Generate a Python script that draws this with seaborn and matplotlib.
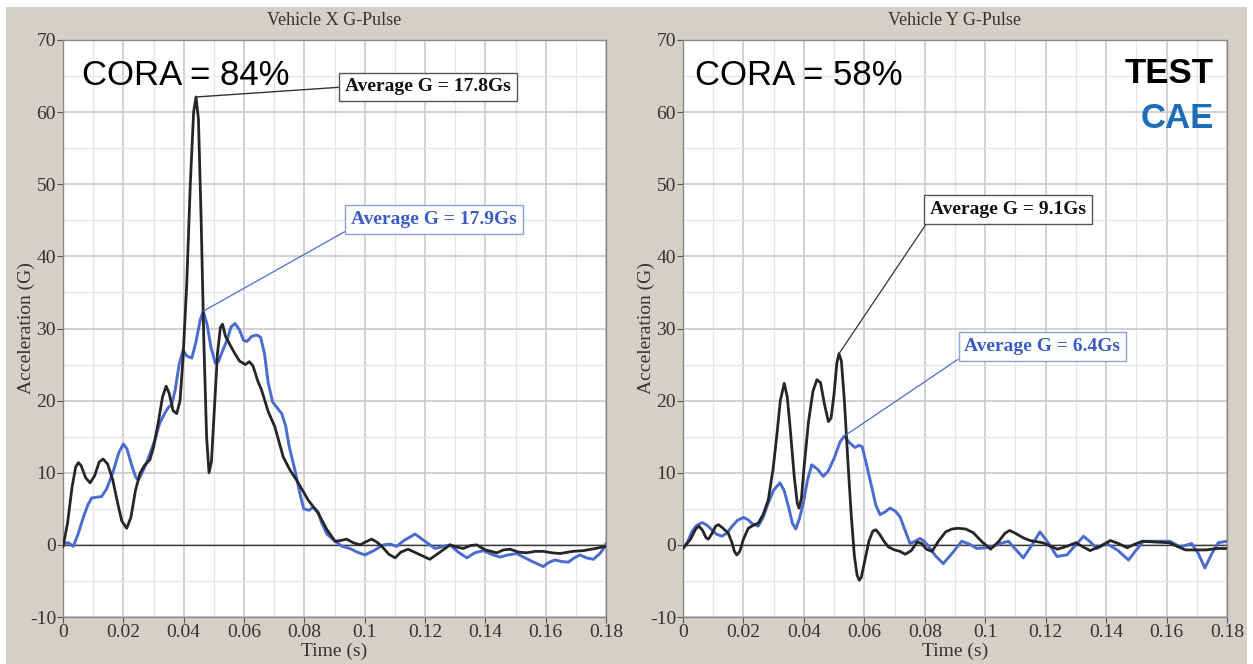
import matplotlib
matplotlib.use("Agg")
import matplotlib.pyplot as plt
import matplotlib.patches as mpatches
from matplotlib.ticker import MultipleLocator, FuncFormatter
import numpy as np
import pandas as pd
import seaborn as sns

# ---- Vehicle X pulse ----
x_test_t = [0, 0.0015, 0.003, 0.0042, 0.0051, 0.006, 0.0075, 0.009, 0.0105, 0.012, 0.0133,
            0.0148, 0.0165, 0.018, 0.0195, 0.0211, 0.0225, 0.024, 0.0255, 0.027, 0.0288,
            0.030, 0.0315, 0.033, 0.0342, 0.0352, 0.0365, 0.0377, 0.0388, 0.0398, 0.041,
            0.0422, 0.0433, 0.0441, 0.0449, 0.0458, 0.0467, 0.0476, 0.0484, 0.0492, 0.0502,
            0.0512, 0.0522, 0.0529, 0.0538, 0.0554, 0.057, 0.0585, 0.0604, 0.0618, 0.063,
            0.0645, 0.0658, 0.068, 0.0702, 0.073, 0.0752, 0.0774, 0.0795, 0.0813, 0.0846,
            0.0875, 0.0902, 0.092, 0.094, 0.0962, 0.0985, 0.1003, 0.1023, 0.104, 0.1057,
            0.108, 0.1101, 0.112, 0.1144, 0.118, 0.1216, 0.125, 0.1283, 0.1305, 0.1327,
            0.135, 0.1371, 0.14, 0.1438, 0.146, 0.1482, 0.151, 0.1537, 0.1565, 0.1592,
            0.162, 0.1648, 0.169, 0.1725, 0.1765, 0.18]
x_test_g = [-0.3, 3, 8, 10.8, 11.4, 11.0, 9.3, 8.6, 9.6, 11.5, 11.9,
            11.2, 9.0, 6.0, 3.3, 2.3, 3.8, 7.5, 9.9, 11.0, 11.8,
            13.5, 16.8, 20.5, 22.0, 21.0, 18.6, 18.2, 20, 26, 36,
            50, 60, 62.1, 59, 45, 28, 15, 10.0, 11.5, 19,
            26.5, 30.2, 30.6, 29, 27.7, 26.5, 25.5, 25.0, 25.4, 24.8,
            22.8, 21.5, 18.5, 16.4, 12.2, 10.4, 9.0, 7.5, 6.2, 4.4,
            2.1, 0.5, 0.6, 0.8, 0.3, 0, 0.4, 0.8, 0.4, -0.2,
            -1.3, -1.8, -1.0, -0.6, -1.3, -2.0, -1.0, 0, -0.3, -0.5,
            -0.1, 0, -0.7, -1.1, -0.7, -0.6, -1.0, -1.1, -0.9, -0.9,
            -1.1, -1.2, -0.9, -0.8, -0.5, -0.2]

x_cae_t = [0, 0.0018, 0.0034, 0.005, 0.0068, 0.0082, 0.0095, 0.011, 0.0128, 0.0145, 0.0165,
           0.0185, 0.02, 0.0212, 0.0228, 0.0242, 0.025, 0.026, 0.0272, 0.0288, 0.0305,
           0.032, 0.0338, 0.035, 0.036, 0.0372, 0.0385, 0.0398, 0.041, 0.0427, 0.044,
           0.0455, 0.0465, 0.0478, 0.049, 0.0505, 0.0515, 0.0528, 0.0543, 0.0557, 0.057,
           0.0585, 0.0598, 0.061, 0.0625, 0.0642, 0.0655, 0.0668, 0.068, 0.0695, 0.071,
           0.0725, 0.0738, 0.075, 0.0768, 0.0786, 0.0798, 0.0815, 0.083, 0.0845, 0.0858,
           0.0875, 0.0902, 0.0925, 0.0951, 0.0975, 0.1001, 0.103, 0.1062, 0.1085, 0.1106,
           0.113, 0.1167, 0.12, 0.1233, 0.1283, 0.131, 0.1339, 0.1365, 0.1393, 0.142,
           0.1449, 0.1475, 0.1504, 0.155, 0.1592, 0.1612, 0.1631, 0.1652, 0.1675, 0.1695,
           0.1714, 0.1735, 0.1758, 0.178, 0.1797, 0.18]
x_cae_g = [0.2, 0.3, -0.2, 1.5, 3.9, 5.5, 6.5, 6.6, 6.7, 7.8, 10.0,
           12.8, 14.0, 13.3, 11.0, 9.3, 9.0, 9.8, 10.9, 12.6, 14.6,
           16.8, 18.3, 19.1, 19.4, 21.5, 25.0, 27.0, 26.2, 25.9, 28,
           31.2, 32.4, 30.5, 27.5, 25.2, 25.4, 26.8, 28.3, 30.2, 30.7,
           29.8, 28.4, 28.2, 28.9, 29.1, 28.8, 26.5, 22.5, 19.8, 19.0,
           18.2, 16.5, 13.6, 10.5, 7.0, 5.0, 4.8, 5.2, 4.6, 3.0,
           1.5, 0.5, -0.2, -0.5, -1.0, -1.4, -0.8, 0, 0.1, -0.2,
           0.6, 1.5, 0.5, -0.5, 0, -1.0, -1.8, -1.1, -0.8, -1.3,
           -1.7, -1.4, -1.2, -2.2, -3.0, -2.4, -2.1, -2.3, -2.4, -1.8,
           -1.4, -1.8, -2.0, -1.2, -0.2, 0.2]

# ---- Vehicle Y pulse ----
y_test_t = [0, 0.0025, 0.0042, 0.0053, 0.0065, 0.0076, 0.0084, 0.0095, 0.0108, 0.0117, 0.013,
            0.015, 0.0162, 0.017, 0.0178, 0.0188, 0.02, 0.0216, 0.0232, 0.0249, 0.0265,
            0.0282, 0.0298, 0.031, 0.0322, 0.0335, 0.0345, 0.0355, 0.0368, 0.0378, 0.0384,
            0.0392, 0.04, 0.0415, 0.043, 0.0443, 0.0455, 0.0468, 0.0481, 0.049, 0.05,
            0.0509, 0.0516, 0.0524, 0.0534, 0.0545, 0.0556, 0.0567, 0.0576, 0.0583, 0.059,
            0.06, 0.0615, 0.0628, 0.0638, 0.065, 0.0665, 0.068, 0.07, 0.0718, 0.0735,
            0.0755, 0.0775, 0.079, 0.0805, 0.0824, 0.0845, 0.0869, 0.089, 0.091, 0.0935,
            0.096, 0.099, 0.1018, 0.1045, 0.1065, 0.1081, 0.11, 0.1125, 0.1148, 0.119,
            0.1239, 0.127, 0.13, 0.1325, 0.1347, 0.138, 0.1414, 0.144, 0.147, 0.1495,
            0.152, 0.156, 0.1608, 0.1635, 0.1663, 0.17, 0.1732, 0.1765, 0.18]
y_test_g = [-0.5, 0.8, 2.2, 2.6, 2.0, 1.0, 0.8, 1.5, 2.6, 2.8, 2.4,
            1.6, 0.3, -0.9, -1.4, -0.9, 0.8, 2.3, 2.7, 3.0, 4.2,
            6.2, 10.5, 15, 20, 22.4, 20.5, 16, 9.5, 5.8, 5.1,
            6.5, 10.5, 17.0, 21.3, 22.9, 22.5, 19.5, 17.1, 17.6, 21.0,
            25.2, 26.5, 25.5, 20.0, 12, 4.5, -1.5, -4.2, -4.9, -4.5,
            -2.5, 0.5, 1.9, 2.1, 1.5, 0.5, -0.3, -0.7, -0.9, -1.3,
            -0.8, 0.4, 0.2, -0.6, -0.9, 0.5, 1.8, 2.2, 2.3, 2.2,
            1.7, 0.4, -0.6, 0.5, 1.6, 2.0, 1.6, 1.0, 0.6, 0.3,
            -0.6, -0.2, 0.3, -0.3, -0.8, -0.2, 0.6, 0.2, -0.4, 0.1,
            0.5, 0.4, 0.3, -0.2, -0.7, -0.7, -0.7, -0.5, -0.5]

y_cae_t = [0, 0.0015, 0.0029, 0.0045, 0.0064, 0.008, 0.0095, 0.011, 0.0128, 0.0145, 0.0161,
           0.018, 0.02, 0.0215, 0.0227, 0.0249, 0.0265, 0.0282, 0.03, 0.0321, 0.0335,
           0.0349, 0.0362, 0.0373, 0.0385, 0.0398, 0.0412, 0.0426, 0.0445, 0.0464, 0.048,
           0.05, 0.052, 0.0534, 0.055, 0.0569, 0.0583, 0.0593, 0.0608, 0.0624, 0.0638,
           0.0652, 0.067, 0.0685, 0.0702, 0.0718, 0.0735, 0.0751, 0.0768, 0.0784, 0.0798,
           0.0812, 0.0835, 0.0861, 0.089, 0.0922, 0.0948, 0.0972, 0.1, 0.1027, 0.105,
           0.1077, 0.11, 0.1126, 0.1155, 0.1181, 0.121, 0.1237, 0.127, 0.13, 0.1325,
           0.1348, 0.1369, 0.1402, 0.144, 0.1474, 0.1498, 0.1523, 0.1558, 0.1612, 0.1645,
           0.1683, 0.1705, 0.1727, 0.175, 0.1771, 0.18]
y_cae_g = [-0.5, 0.4, 1.8, 2.7, 3.1, 2.7, 2.1, 1.5, 1.2, 1.6, 2.5,
           3.4, 3.8, 3.5, 3.0, 2.6, 3.8, 5.8, 7.6, 8.6, 7.5,
           5.3, 3.0, 2.2, 3.6, 5.8, 9.0, 11.1, 10.5, 9.5, 10.2,
           12.0, 14.3, 15.1, 14.2, 13.5, 13.8, 13.6, 11.0, 8.1, 5.5,
           4.2, 4.6, 5.1, 4.7, 3.9, 2.0, 0.2, 0.5, 0.9, 0.5,
           -0.2, -1.5, -2.6, -1.2, 0.5, 0.1, -0.5, -0.4, -0.2, 0.2,
           0.5, -0.6, -1.8, 0.0, 1.8, 0.2, -1.6, -1.4, 0.0, 1.2,
           0.4, -0.5, 0.2, -0.8, -2.1, -0.8, 0.5, 0.5, 0.5, -0.3,
           0.2, -1.2, -3.2, -1.2, 0.3, 0.5]

titles = ["Vehicle X G-Pulse", "Vehicle Y G-Pulse"]
cora_labels = ["CORA = 84%", "CORA = 58%"]
avg_test_labels = ["Average G = 17.8Gs", "Average G = 9.1Gs"]
avg_cae_labels = ["Average G = 17.9Gs", "Average G = 6.4Gs"]
legend_labels = ["TEST", "CAE"]

TEST_COLOR = "#262626"
CAE_COLOR = "#4a6ccf"
CAE_TEXT = "#3a5cc4"
PANEL_GRAY = "#d4d0c8"

sns.set_theme(style="whitegrid")
plt.rcParams["font.family"] = ["Liberation Serif", "DejaVu Serif"]
plt.rcParams["axes.unicode_minus"] = False

fig = plt.figure(figsize=(12.53, 6.64), dpi=100, facecolor="white")
fig.patches.append(mpatches.Rectangle((6 / 1253, 0), 1241 / 1253, 1 - 7 / 664,
                                      transform=fig.transFigure, facecolor=PANEL_GRAY,
                                      edgecolor="none", zorder=-10))

ax_l = fig.add_axes([63 / 1253, 1 - 617 / 664, 543 / 1253, 577 / 664])
ax_r = fig.add_axes([683 / 1253, 1 - 617 / 664, 544 / 1253, 577 / 664])


def fmt_time(v, _):
    if abs(v) < 1e-9:
        return "0"
    return f"{v:.2f}".rstrip("0")


def style_axes(ax, title):
    ax.set_facecolor("white")
    ax.set_xlim(0, 0.18)
    ax.set_ylim(-10, 70)
    ax.xaxis.set_major_locator(MultipleLocator(0.02))
    ax.xaxis.set_minor_locator(MultipleLocator(0.01))
    ax.yaxis.set_major_locator(MultipleLocator(10))
    ax.yaxis.set_minor_locator(MultipleLocator(5))
    ax.xaxis.set_major_formatter(FuncFormatter(fmt_time))
    ax.grid(which="major", color="#c9c9c9", linewidth=1.2)
    ax.grid(which="minor", color="#e6e6e6", linewidth=0.9)
    ax.set_axisbelow(True)
    ax.axhline(0, color="#3a3a3a", linewidth=1.0, zorder=1)
    for s in ax.spines.values():
        s.set_color("#8a8a8a")
        s.set_linewidth(1.0)
    ax.tick_params(which="major", axis="both", direction="out", length=4, width=0.8,
                   color="#555555", labelsize=14, labelcolor="#333333", pad=1,
                   bottom=True, left=True)
    ax.tick_params(which="minor", length=0)
    ax.set_title(title, fontsize=13, color="#333333", pad=11)
    ax.set_xlabel("Time (s)", fontsize=14, color="#333333", labelpad=1)
    ax.set_ylabel("Acceleration (G)", fontsize=14, color="#333333", labelpad=-4)


def draw_pair(ax, tt, tg, ct, cg):
    df_t = pd.DataFrame({"t": tt, "g": tg})
    df_c = pd.DataFrame({"t": ct, "g": cg})
    sns.lineplot(data=df_c, x="t", y="g", ax=ax, color=CAE_COLOR, linewidth=2.1,
                 estimator=None, legend=False, zorder=3)
    sns.lineplot(data=df_t, x="t", y="g", ax=ax, color=TEST_COLOR, linewidth=2.0,
                 estimator=None, legend=False, zorder=4)
    for ln in ax.get_lines():
        ln.set_solid_joinstyle("round")
        ln.set_solid_capstyle("round")


def peak(ts, gs):
    i = int(np.argmax(gs))
    return ts[i], gs[i]


box_font = dict(fontsize=14, fontweight="bold")

# Left panel
draw_pair(ax_l, x_test_t, x_test_g, x_cae_t, x_cae_g)
style_axes(ax_l, titles[0])
ax_l.text(0.0063, 63.8, cora_labels[0], family="Liberation Sans", fontsize=25,
          color="black", va="baseline", ha="left", zorder=6)
ax_l.annotate(avg_test_labels[0], xy=peak(x_test_t, x_test_g), xytext=(0.0935, 63.5),
              ha="left", va="center", color="#111111", zorder=6, **box_font,
              bbox=dict(boxstyle="square,pad=0.3", fc="white", ec="#555555", lw=1),
              arrowprops=dict(arrowstyle="-", color="#333333", lw=1.0, relpos=(0, 0.5),
                              shrinkA=0, shrinkB=0))
ax_l.annotate(avg_cae_labels[0], xy=peak(x_cae_t, x_cae_g), xytext=(0.0955, 45.1),
              ha="left", va="center", color=CAE_TEXT, zorder=6, **box_font,
              bbox=dict(boxstyle="square,pad=0.3", fc="white", ec="#8aa2dc", lw=1),
              arrowprops=dict(arrowstyle="-", color=CAE_COLOR, lw=0.9, relpos=(0, 0),
                              shrinkA=0, shrinkB=0))

# Right panel
draw_pair(ax_r, y_test_t, y_test_g, y_cae_t, y_cae_g)
style_axes(ax_r, titles[1])
ax_r.text(0.004, 63.8, cora_labels[1], family="Liberation Sans", fontsize=25,
          color="black", va="baseline", ha="left", zorder=6)
ax_r.text(0.1757, 64.1, legend_labels[0], family="Liberation Sans", fontsize=25,
          fontweight="bold", color="black", va="baseline", ha="right", zorder=6)
ax_r.text(0.1757, 57.8, legend_labels[1], family="Liberation Sans", fontsize=25,
          fontweight="bold", color="#1f6cb8", va="baseline", ha="right", zorder=6)
ax_r.annotate(avg_test_labels[1], xy=peak(y_test_t, y_test_g), xytext=(0.0818, 46.5),
              ha="left", va="center", color="#111111", zorder=6, **box_font,
              bbox=dict(boxstyle="square,pad=0.3", fc="white", ec="#555555", lw=1),
              arrowprops=dict(arrowstyle="-", color="#333333", lw=0.9, relpos=(0, 0),
                              shrinkA=0, shrinkB=0))
ax_r.annotate(avg_cae_labels[1], xy=peak(y_cae_t, y_cae_g), xytext=(0.0931, 27.5),
              ha="left", va="center", color=CAE_TEXT, zorder=6, **box_font,
              bbox=dict(boxstyle="square,pad=0.3", fc="white", ec="#8aa2dc", lw=1),
              arrowprops=dict(arrowstyle="-", color=CAE_COLOR, lw=0.9, relpos=(0, 0),
                              shrinkA=0, shrinkB=0))

fig.savefig("out.png", dpi=100, facecolor=fig.get_facecolor())
